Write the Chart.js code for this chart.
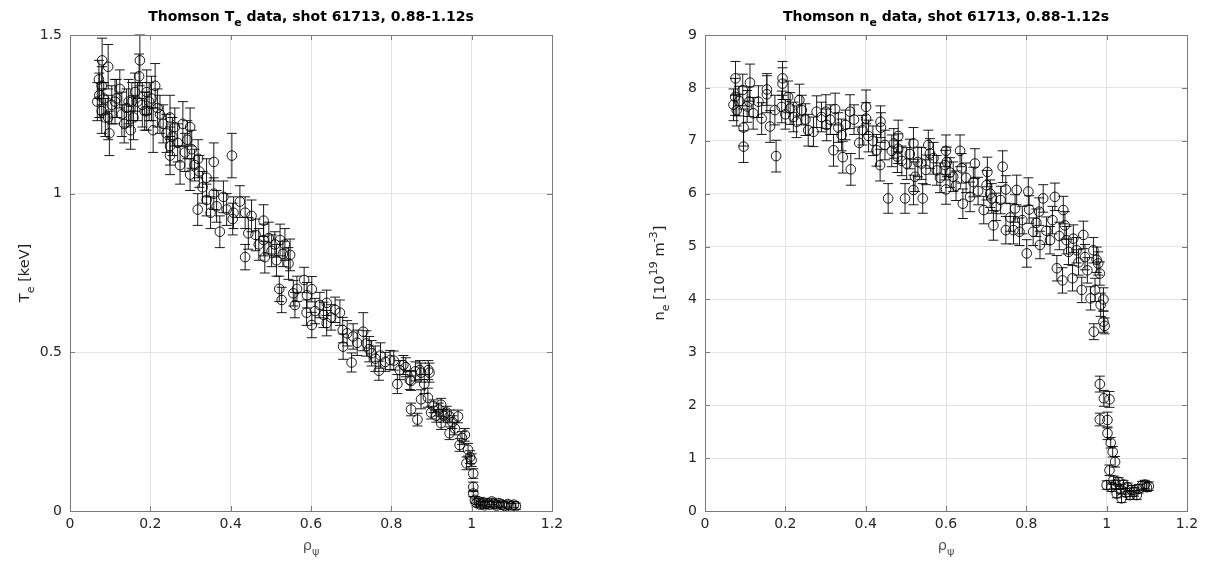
<!DOCTYPE html>
<html>
<head>
<meta charset="utf-8">
<title>Thomson profiles</title>
<script src="https://cdn.jsdelivr.net/npm/chart.js@4.4.1/dist/chart.umd.min.js"></script>
<style>
  body { margin: 0; background: #fff; }
  #wrap { position: relative; width: 1209px; height: 562px; }
  canvas { position: absolute; top: 0; }
</style>
</head>
<body>
<div id="wrap">
  <canvas id="teChart" width="600" height="562" style="left:0;width:600px;height:562px"></canvas>
  <canvas id="neChart" width="609" height="562" style="left:600px;width:609px;height:562px"></canvas>
</div>
<script>
// tick values
const xTicks = [0, 0.2, 0.4, 0.6, 0.8, 1, 1.2]
const teTicks = [0, 0.5, 1, 1.5]
const neTicks = [0, 1, 2, 3, 4, 5, 6, 7, 8, 9]

// Te profile, keV
const teRho = [
  0.068, 0.072, 0.073, 0.079, 0.079, 0.080, 0.084, 0.088, 0.095, 0.095, 0.098, 0.104, 0.112, 0.116, 0.124,
  0.129, 0.135, 0.141, 0.146, 0.151, 0.154, 0.158, 0.162, 0.168, 0.172, 0.174, 0.180, 0.186, 0.191, 0.191,
  0.197, 0.203, 0.207, 0.212, 0.218, 0.224, 0.232, 0.240, 0.249, 0.249, 0.249, 0.255, 0.261, 0.268, 0.274,
  0.281, 0.286, 0.292, 0.299, 0.299, 0.303, 0.310, 0.319, 0.322, 0.318, 0.330, 0.340, 0.340, 0.350, 0.358,
  0.358, 0.365, 0.373, 0.382, 0.390, 0.403, 0.407, 0.405, 0.423, 0.436, 0.436, 0.444, 0.452, 0.462, 0.470,
  0.482, 0.482, 0.485, 0.495, 0.502, 0.510, 0.514, 0.523, 0.530, 0.535, 0.548, 0.544, 0.521, 0.527, 0.556,
  0.560, 0.565, 0.583, 0.590, 0.602, 0.589, 0.602, 0.610, 0.622, 0.639, 0.631, 0.639, 0.650, 0.660, 0.672,
  0.679, 0.680, 0.690, 0.701, 0.705, 0.715, 0.730, 0.738, 0.745, 0.751, 0.760, 0.769, 0.773, 0.785, 0.797,
  0.806, 0.815, 0.821, 0.830, 0.836, 0.846, 0.849, 0.849, 0.860, 0.865, 0.871, 0.874, 0.874, 0.882, 0.891,
  0.892, 0.895, 0.899, 0.905, 0.912, 0.918, 0.924, 0.924, 0.930, 0.938, 0.945, 0.945, 0.952, 0.958, 0.966,
  0.970, 0.976, 0.983, 0.987, 0.991, 0.996, 1.000, 1.004, 1.004, 1.004, 1.008, 1.012, 1.018, 1.022, 1.028,
  1.032, 1.038, 1.045, 1.050, 1.055, 1.062, 1.068, 1.075, 1.082, 1.090, 1.098, 1.105, 1.110
]
const teVal = [
  1.29, 1.36, 1.31, 1.34, 1.26, 1.42, 1.30, 1.24, 1.40, 1.24, 1.19, 1.28, 1.29, 1.30, 1.33,
  1.25, 1.22, 1.27, 1.29, 1.20, 1.29, 1.24, 1.32, 1.29, 1.37, 1.42, 1.28, 1.26, 1.32, 1.26,
  1.29, 1.30, 1.20, 1.34, 1.27, 1.25, 1.22, 1.19, 1.24, 1.15, 1.12, 1.18, 1.21, 1.16, 1.09,
  1.22, 1.13, 1.17, 1.21, 1.06, 1.14, 1.09, 1.11, 1.07, 0.95, 1.02, 1.05, 0.98, 0.94, 1.10,
  1.00, 0.96, 0.88, 0.99, 0.95, 1.12, 0.94, 0.92, 0.975, 0.94, 0.80, 0.875, 0.93, 0.87, 0.84,
  0.915, 0.854, 0.80, 0.86, 0.82, 0.84, 0.79, 0.854, 0.81, 0.84, 0.807, 0.78, 0.70, 0.665, 0.686,
  0.649, 0.70, 0.728, 0.68, 0.699, 0.625, 0.586, 0.63, 0.649, 0.656, 0.618, 0.592, 0.61, 0.634, 0.625,
  0.57, 0.518, 0.56, 0.468, 0.55, 0.53, 0.565, 0.528, 0.51, 0.497, 0.48, 0.442, 0.49, 0.47, 0.476,
  0.474, 0.40, 0.444, 0.46, 0.453, 0.413, 0.41, 0.32, 0.44, 0.288, 0.444, 0.436, 0.352, 0.40, 0.357,
  0.444, 0.436, 0.31, 0.33, 0.30, 0.32, 0.335, 0.277, 0.30, 0.31, 0.298, 0.245, 0.28, 0.26, 0.298,
  0.208, 0.23, 0.24, 0.15, 0.193, 0.17, 0.16, 0.118, 0.076, 0.055, 0.035, 0.025, 0.03, 0.02, 0.028,
  0.018, 0.024, 0.02, 0.03, 0.022, 0.017, 0.025, 0.02, 0.016, 0.022, 0.014, 0.02, 0.015
]
const teErr = [
  0.06, 0.06, 0.07, 0.06, 0.07, 0.07, 0.05, 0.06, 0.07, 0.07, 0.07, 0.06, 0.07, 0.06, 0.06,
  0.07, 0.06, 0.06, 0.07, 0.06, 0.06, 0.07, 0.06, 0.06, 0.07, 0.08, 0.07, 0.06, 0.07, 0.06,
  0.06, 0.07, 0.07, 0.07, 0.06, 0.06, 0.06, 0.06, 0.07, 0.06, 0.06, 0.06, 0.06, 0.06, 0.06,
  0.07, 0.06, 0.06, 0.06, 0.05, 0.06, 0.05, 0.06, 0.05, 0.05, 0.05, 0.06, 0.05, 0.05, 0.06,
  0.05, 0.05, 0.05, 0.05, 0.05, 0.07, 0.05, 0.05, 0.05, 0.05, 0.04, 0.05, 0.05, 0.05, 0.05,
  0.05, 0.05, 0.05, 0.05, 0.05, 0.04, 0.05, 0.05, 0.04, 0.05, 0.05, 0.05, 0.04, 0.04, 0.04,
  0.04, 0.04, 0.04, 0.04, 0.04, 0.04, 0.04, 0.04, 0.04, 0.04, 0.04, 0.04, 0.04, 0.04, 0.04,
  0.04, 0.04, 0.04, 0.03, 0.04, 0.04, 0.06, 0.04, 0.04, 0.04, 0.04, 0.03, 0.04, 0.03, 0.03,
  0.03, 0.03, 0.03, 0.03, 0.03, 0.03, 0.03, 0.02, 0.03, 0.02, 0.03, 0.03, 0.03, 0.03, 0.03,
  0.03, 0.03, 0.02, 0.02, 0.02, 0.02, 0.02, 0.02, 0.02, 0.02, 0.02, 0.02, 0.02, 0.02, 0.02,
  0.02, 0.02, 0.02, 0.02, 0.02, 0.02, 0.02, 0.015, 0.015, 0.01, 0.01, 0.01, 0.01, 0.01, 0.01,
  0.01, 0.01, 0.01, 0.01, 0.01, 0.01, 0.01, 0.01, 0.01, 0.01, 0.01, 0.01, 0.01
]

// ne profile, 1e19 m^-3
const neRho = [
  0.071, 0.075, 0.076, 0.079, 0.085, 0.094, 0.096, 0.096, 0.105, 0.110, 0.112, 0.120, 0.133, 0.141, 0.154,
  0.154, 0.162, 0.174, 0.177, 0.191, 0.193, 0.193, 0.200, 0.207, 0.212, 0.220, 0.228, 0.235, 0.241, 0.250,
  0.257, 0.270, 0.278, 0.290, 0.301, 0.303, 0.312, 0.320, 0.324, 0.332, 0.340, 0.343, 0.350, 0.361, 0.363,
  0.371, 0.384, 0.392, 0.401, 0.401, 0.407, 0.418, 0.427, 0.437, 0.438, 0.436, 0.448, 0.456, 0.465, 0.470,
  0.481, 0.481, 0.479, 0.490, 0.498, 0.502, 0.510, 0.519, 0.523, 0.519, 0.530, 0.539, 0.542, 0.550, 0.556,
  0.560, 0.569, 0.577, 0.585, 0.598, 0.600, 0.600, 0.602, 0.610, 0.618, 0.625, 0.635, 0.639, 0.642, 0.650,
  0.660, 0.668, 0.672, 0.680, 0.694, 0.701, 0.703, 0.710, 0.714, 0.718, 0.725, 0.736, 0.741, 0.749, 0.749,
  0.760, 0.768, 0.772, 0.776, 0.783, 0.790, 0.801, 0.805, 0.807, 0.817, 0.825, 0.832, 0.834, 0.842, 0.850,
  0.859, 0.865, 0.871, 0.876, 0.882, 0.890, 0.892, 0.896, 0.900, 0.905, 0.915, 0.917, 0.925, 0.930, 0.938,
  0.942, 0.946, 0.952, 0.960, 0.967, 0.968, 0.971, 0.975, 0.979, 0.983, 0.985, 0.992, 0.992, 0.995, 0.983,
  0.993, 1.007, 0.983, 1.002, 1.002, 1.010, 1.015, 1.021, 1.007, 1.000, 1.017, 1.012, 1.025, 1.022, 1.030,
  1.035, 1.037, 1.042, 1.048, 1.052, 1.058, 1.062, 1.068, 1.075, 1.080, 1.088, 1.095, 1.100, 1.105
]
const neVal = [
  7.68, 7.83, 8.18, 7.58, 7.75, 7.96, 7.25, 6.89, 7.65, 7.74, 8.10, 7.52, 7.74, 7.42, 7.97,
  7.88, 7.27, 7.58, 6.71, 7.64, 8.18, 8.08, 7.50, 7.83, 7.61, 7.45, 7.36, 7.77, 7.58, 7.40,
  7.20, 7.17, 7.55, 7.45, 7.55, 7.30, 7.40, 6.82, 7.60, 7.25, 7.11, 6.69, 7.30, 7.55, 6.46,
  7.40, 6.96, 7.20, 7.64, 7.42, 7.09, 7.00, 6.82, 7.36, 7.25, 6.54, 6.92, 5.91, 6.81, 6.95,
  7.09, 6.85, 6.70, 6.62, 5.91, 6.57, 6.75, 6.95, 6.32, 6.07, 6.60, 6.57, 5.91, 6.45, 6.92,
  6.76, 6.67, 6.44, 6.30, 6.54, 6.81, 6.08, 6.60, 6.40, 6.32, 6.15, 6.81, 6.48, 5.81, 6.30,
  5.94, 6.22, 6.57, 6.05, 5.69, 6.16, 6.41, 6.00, 5.91, 5.40, 5.75, 5.88, 6.51, 6.08, 5.31,
  5.55, 5.31, 5.72, 6.07, 5.28, 5.50, 4.87, 6.04, 5.70, 5.28, 5.45, 5.66, 5.03, 5.91, 5.30,
  5.12, 5.50, 5.94, 4.59, 5.20, 4.36, 5.69, 5.40, 5.12, 4.90, 4.40, 5.15, 4.93, 4.70, 4.18,
  5.22, 4.80, 4.55, 4.02, 4.93, 3.39, 4.18, 4.75, 4.68, 4.49, 3.90, 4.00, 3.58, 3.50, 2.40,
  2.13, 2.11, 1.73, 1.72, 1.47, 1.29, 1.12, 0.93, 0.77, 0.49, 0.58, 0.45, 0.33, 0.50, 0.55,
  0.42, 0.24, 0.50, 0.35, 0.45, 0.30, 0.40, 0.36, 0.30, 0.42, 0.48, 0.50, 0.45, 0.47
]
const neErr = [
  0.30, 0.35, 0.32, 0.30, 0.28, 0.30, 0.35, 0.30, 0.30, 0.28, 0.35, 0.30, 0.30, 0.30, 0.30,
  0.35, 0.30, 0.28, 0.30, 0.30, 0.32, 0.30, 0.28, 0.30, 0.30, 0.28, 0.30, 0.30, 0.28, 0.30,
  0.30, 0.28, 0.30, 0.28, 0.32, 0.30, 0.28, 0.30, 0.30, 0.28, 0.30, 0.30, 0.28, 0.32, 0.30,
  0.28, 0.30, 0.28, 0.32, 0.30, 0.30, 0.28, 0.30, 0.30, 0.28, 0.30, 0.28, 0.28, 0.30, 0.28,
  0.30, 0.28, 0.30, 0.28, 0.28, 0.30, 0.28, 0.30, 0.28, 0.28, 0.28, 0.30, 0.28, 0.28, 0.28,
  0.28, 0.30, 0.28, 0.28, 0.28, 0.30, 0.28, 0.28, 0.28, 0.28, 0.28, 0.30, 0.28, 0.28, 0.28,
  0.28, 0.28, 0.28, 0.26, 0.26, 0.28, 0.28, 0.26, 0.28, 0.28, 0.26, 0.26, 0.30, 0.26, 0.26,
  0.26, 0.26, 0.26, 0.28, 0.26, 0.26, 0.26, 0.26, 0.26, 0.26, 0.26, 0.26, 0.26, 0.26, 0.26,
  0.26, 0.26, 0.26, 0.24, 0.26, 0.24, 0.26, 0.26, 0.26, 0.24, 0.24, 0.26, 0.24, 0.24, 0.24,
  0.26, 0.24, 0.24, 0.22, 0.24, 0.15, 0.22, 0.24, 0.22, 0.22, 0.22, 0.22, 0.20, 0.15, 0.15,
  0.15, 0.15, 0.12, 0.15, 0.12, 0.10, 0.10, 0.10, 0.10, 0.08, 0.08, 0.08, 0.08, 0.08, 0.08,
  0.08, 0.08, 0.08, 0.08, 0.08, 0.08, 0.08, 0.08, 0.08, 0.08, 0.08, 0.08, 0.08, 0.08
]

const FONT = '"DejaVu Sans", "Liberation Sans", sans-serif'
const TXT = '#262626'
const AXIS = '#7a7a7a'
const MARK = '#000'

// text with sub (1) and sup (2) pieces, centred at cx, cy
function drawRich(ctx, segs, cx, cy, size, weight, angle, color) {
  ctx.save()
  ctx.translate(cx, cy)
  ctx.rotate(angle)
  ctx.fillStyle = color
  ctx.textBaseline = 'middle'
  ctx.textAlign = 'left'
  let total = 0
  segs.forEach(s => {
    ctx.font = weight + ' ' + (s[1] ? size * 0.78 : size) + 'px ' + FONT
    total += ctx.measureText(s[0]).width
  })
  let x = -total / 2
  segs.forEach(s => {
    ctx.font = weight + ' ' + (s[1] ? size * 0.78 : size) + 'px ' + FONT
    const dy = s[1] === 1 ? size * 0.42 : (s[1] === 2 ? -size * 0.42 : 0)
    ctx.fillText(s[0], x, dy)
    x += ctx.measureText(s[0]).width
  })
  ctx.restore()
}

function makePlot(id, rho, val, err, yTicks, yMax, padLeft, padRight, title, ylabel) {
  const errorBars = {
    id: 'errorBars',
    beforeDatasetsDraw(chart) {
      const ctx = chart.ctx
      const xs = chart.scales.x
      const ys = chart.scales.y
      ctx.save()
      ctx.strokeStyle = MARK
      ctx.lineWidth = 0.9
      ctx.beginPath()
      for (let i = 0; i < rho.length; i++) {
        const px = xs.getPixelForValue(rho[i])
        const top = ys.getPixelForValue(val[i] + err[i])
        const bot = ys.getPixelForValue(val[i] - err[i])
        ctx.moveTo(px, top); ctx.lineTo(px, bot)
        ctx.moveTo(px - 5, top); ctx.lineTo(px + 5, top)
        ctx.moveTo(px - 5, bot); ctx.lineTo(px + 5, bot)
      }
      ctx.stroke()
      ctx.restore()
    }
  }

  const frame = {
    id: 'frame',
    afterDraw(chart) {
      const ctx = chart.ctx
      const a = chart.chartArea
      const xs = chart.scales.x
      const ys = chart.scales.y
      ctx.save()
      ctx.strokeStyle = AXIS
      ctx.lineWidth = 1
      ctx.strokeRect(Math.round(a.left) + 0.5, Math.round(a.top) + 0.5,
        Math.round(a.right - a.left), Math.round(a.bottom - a.top))
      ctx.beginPath()
      xTicks.forEach(v => {
        const p = Math.round(xs.getPixelForValue(v)) + 0.5
        ctx.moveTo(p, a.bottom); ctx.lineTo(p, a.bottom - 5)
        ctx.moveTo(p, a.top); ctx.lineTo(p, a.top + 5)
      })
      yTicks.forEach(v => {
        const p = Math.round(ys.getPixelForValue(v)) + 0.5
        ctx.moveTo(a.left, p); ctx.lineTo(a.left + 5, p)
        ctx.moveTo(a.right, p); ctx.lineTo(a.right - 5, p)
      })
      ctx.stroke()
      ctx.restore()

      const mid = (a.left + a.right) / 2
      drawRich(ctx, title, mid, 17, 14, 'bold', 0, '#000')
      drawRich(ctx, ylabel, a.left - 45, (a.top + a.bottom) / 2, 14.5, 'normal', -Math.PI / 2, TXT)
      drawRich(ctx, [['ρ', 0], ['ψ', 1]], mid, 546, 14.5, 'normal', 0, '#555')
    }
  }

  return new Chart(document.getElementById(id), {
    type: 'scatter',
    data: {
      datasets: [{
        data: rho.map((r, i) => ({ x: r, y: val[i] })),
        pointStyle: 'circle',
        pointRadius: 4.8,
        pointHoverRadius: 4.8,
        pointBackgroundColor: 'rgba(0,0,0,0)',
        pointBorderColor: MARK,
        pointBorderWidth: 0.9,
        showLine: false
      }]
    },
    options: {
      responsive: false,
      animation: false,
      events: [],
      layout: { padding: { left: padLeft, right: padRight, top: 35, bottom: 21 } },
      plugins: { legend: { display: false }, tooltip: { enabled: false }, title: { display: false } },
      scales: {
        x: {
          type: 'linear', min: 0, max: 1.2,
          afterBuildTicks: s => { s.ticks = xTicks.map(v => ({ value: v })) },
          afterFit: s => { s.height = 30 },
          ticks: { color: TXT, font: { family: FONT, size: 14 }, padding: 5, maxRotation: 0,
            callback: v => String(v) },
          grid: { color: '#e3e3e3', lineWidth: 1, drawTicks: false },
          border: { display: false }
        },
        y: {
          type: 'linear', min: 0, max: yMax,
          afterBuildTicks: s => { s.ticks = yTicks.map(v => ({ value: v })) },
          afterFit: s => { s.width = 60 },
          ticks: { color: TXT, font: { family: FONT, size: 14 }, padding: 8,
            callback: v => String(v) },
          grid: { color: '#e3e3e3', lineWidth: 1, drawTicks: false },
          border: { display: false }
        }
      }
    },
    plugins: [errorBars, frame]
  })
}

makePlot('teChart', teRho, teVal, teErr, teTicks, 1.5, 10, 48,
  [['Thomson T', 0], ['e', 1], [' data, shot 61713, 0.88-1.12s', 0]],
  [['T', 0], ['e', 1], [' [keV]', 0]])

makePlot('neChart', neRho, neVal, neErr, neTicks, 9, 45, 22,
  [['Thomson n', 0], ['e', 1], [' data, shot 61713, 0.88-1.12s', 0]],
  [['n', 0], ['e', 1], [' [10', 0], ['19', 2], [' m', 0], ['-3', 2], [']', 0]])
</script>
</body>
</html>
